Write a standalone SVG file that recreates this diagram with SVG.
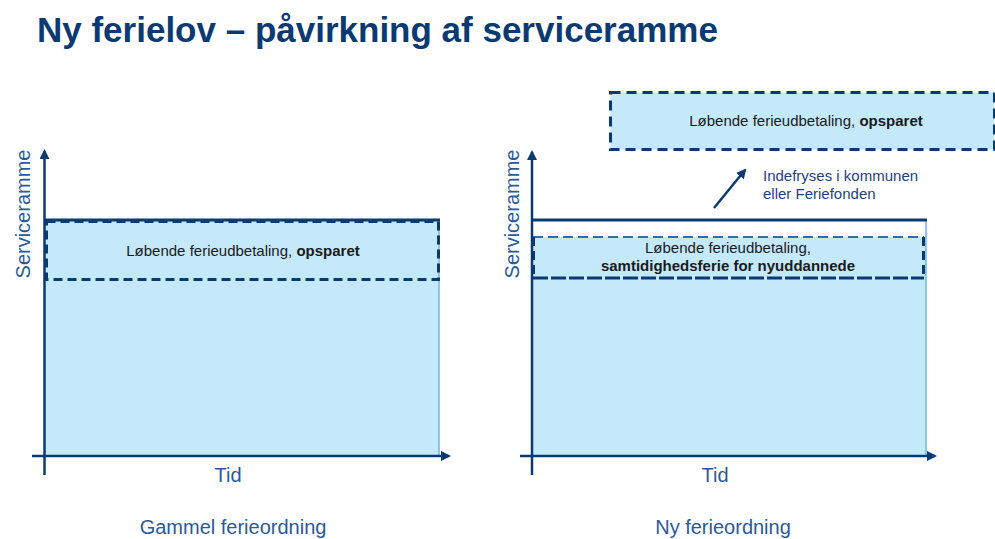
<svg xmlns="http://www.w3.org/2000/svg" width="995" height="539" viewBox="0 0 995 539">
<defs>
<marker id="ah" viewBox="0 0 10 10" refX="8" refY="5" markerWidth="4" markerHeight="4" orient="auto" markerUnits="strokeWidth">
<path d="M0,0 L10,5 L0,10 Z" fill="#0b3a73"/>
</marker>
<style>
.title{font-family:"Liberation Sans",Arial,sans-serif;font-weight:bold;font-size:35px;fill:#0b3a73}
.ax{stroke:#0b3a73;stroke-width:2.5;fill:none}
.lbl{font-family:"Liberation Sans",Arial,sans-serif;font-size:20px;fill:#2a5a9a}
.box{font-family:"Liberation Sans",Arial,sans-serif;font-size:15px;fill:#1a1a1a}
.b{font-weight:bold}
.fill{fill:#c4e9fb;stroke:none}
.edge{stroke:#6ab8e8;stroke-width:1.5;fill:none}
.solid{stroke:#0b3a73;stroke-width:3;fill:none}
.dash{stroke:#0b3a73;stroke-width:3;fill:none;stroke-dasharray:9 5}
.note{font-family:"Liberation Sans",Arial,sans-serif;font-size:15px;fill:#1f3f7f}
</style>
</defs>
<rect width="995" height="539" fill="#ffffff"/>
<text id="title" class="title" x="37" y="42">Ny ferielov – påvirkning af serviceramme</text>

<g id="left-chart">
<rect class="fill" x="45" y="220" width="394" height="236"/>
<line class="edge" x1="439" y1="220" x2="439" y2="456"/>
<line class="solid" x1="45" y1="220" x2="440" y2="220"/>
<rect class="dash" x="46.5" y="221.5" width="392" height="58"/>
<text class="box" x="243" y="256" text-anchor="middle">Løbende ferieudbetaling, <tspan class="b">opsparet</tspan></text>
</g>

<g id="right-chart">
<rect x="532" y="220" width="394" height="17" fill="#ffffff"/>
<rect class="fill" x="532" y="237" width="394" height="219"/>
<line class="edge" x1="926" y1="220" x2="926" y2="456"/>
<line class="solid" x1="532" y1="220" x2="927" y2="220"/>
<line x1="533" y1="237" x2="924" y2="237" stroke="#2d6db0" stroke-width="2" stroke-dasharray="10 5"/>
<path d="M533.5,237 V278 M923.5,237 V278" class="dash"/>
<line x1="533" y1="278" x2="924" y2="278" stroke="#0b3a73" stroke-width="3" stroke-dasharray="15 3"/>
<text class="box" x="728" y="253" text-anchor="middle">Løbende ferieudbetaling,</text>
<text class="box b" x="728" y="271" text-anchor="middle">samtidighedsferie for nyuddannede</text>
</g>

<g id="top-box">
<rect x="610.5" y="92.5" width="384" height="57" fill="#c4e9fb" stroke="#0b3a73" stroke-width="3" stroke-dasharray="10 6"/>
<text class="box" x="806" y="126" text-anchor="middle">Løbende ferieudbetaling, <tspan class="b">opsparet</tspan></text>
</g>

<g id="note">
<text class="note" x="763" y="181">Indefryses i kommunen</text>
<text class="note" x="763" y="199">eller Feriefonden</text>
</g>

<g id="connectors">
<line class="ax" x1="44.5" y1="475" x2="44.5" y2="151" marker-end="url(#ah)"/>
<line class="ax" x1="32" y1="456" x2="449" y2="456" marker-end="url(#ah)"/>
<line class="ax" x1="532" y1="475" x2="532" y2="152" marker-end="url(#ah)"/>
<line class="ax" x1="520" y1="456" x2="935" y2="456" marker-end="url(#ah)"/>
<line class="ax" x1="714" y1="208" x2="745" y2="170" marker-end="url(#ah)"/>
</g>

<g id="labels">
<text class="lbl" transform="translate(30,214) rotate(-90)" text-anchor="middle">Serviceramme</text>
<text class="lbl" transform="translate(519,214) rotate(-90)" text-anchor="middle">Serviceramme</text>
<text class="lbl" x="228" y="482" text-anchor="middle">Tid</text>
<text class="lbl" x="715" y="482" text-anchor="middle">Tid</text>
<text class="lbl" x="233" y="534" text-anchor="middle">Gammel ferieordning</text>
<text class="lbl" x="723" y="534" text-anchor="middle">Ny ferieordning</text>
</g>
</svg>
